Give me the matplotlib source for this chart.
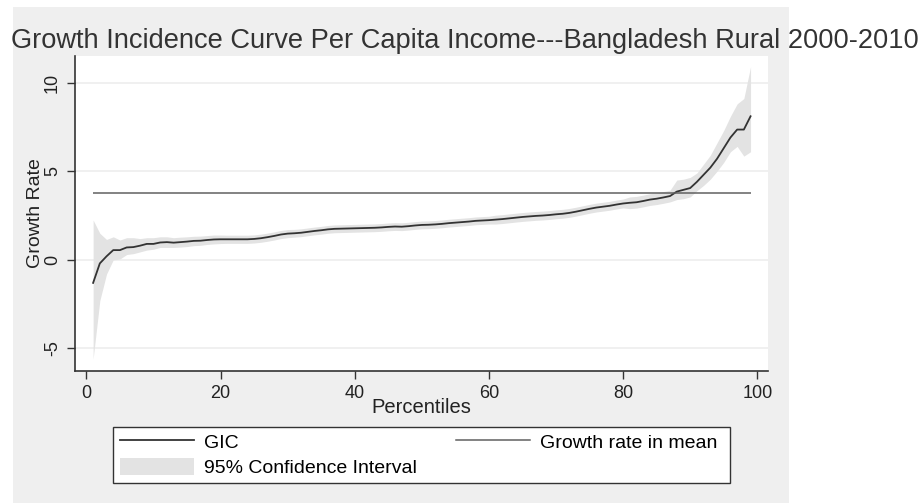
import matplotlib
matplotlib.use("Agg")
import matplotlib.pyplot as plt
from matplotlib.patches import Rectangle, Patch
from matplotlib.lines import Line2D

plt.rcParams['font.family'] = ['Liberation Sans', 'DejaVu Sans']

# percentiles 1..99
percentiles = list(range(1, 100))

gic = [-1.30, -0.20, 0.20, 0.55, 0.55, 0.70, 0.72, 0.80, 0.90, 0.90,
       0.98, 1.00, 0.97, 1.00, 1.03, 1.07, 1.08, 1.12, 1.15, 1.16,
       1.16, 1.16, 1.16, 1.16, 1.18, 1.22, 1.28, 1.35, 1.43, 1.48,
       1.50, 1.53, 1.58, 1.63, 1.67, 1.72, 1.75, 1.76, 1.77, 1.78,
       1.79, 1.80, 1.81, 1.83, 1.86, 1.88, 1.87, 1.90, 1.94, 1.97,
       1.98, 2.00, 2.03, 2.07, 2.10, 2.13, 2.16, 2.20, 2.22, 2.24,
       2.27, 2.30, 2.34, 2.38, 2.42, 2.45, 2.48, 2.50, 2.53, 2.57,
       2.60, 2.65, 2.72, 2.80, 2.88, 2.95, 3.00, 3.05, 3.12, 3.18,
       3.22, 3.25, 3.32, 3.40, 3.45, 3.52, 3.60, 3.85, 3.95, 4.05,
       4.40, 4.80, 5.20, 5.70, 6.30, 6.90, 7.35, 7.35, 8.10]

ci_low = [-5.60, -2.30, -0.80, 0.00, 0.05, 0.30, 0.35, 0.45, 0.55, 0.60,
          0.70, 0.70, 0.70, 0.72, 0.75, 0.80, 0.82, 0.87, 0.90, 0.92,
          0.93, 0.93, 0.93, 0.93, 0.95, 0.99, 1.05, 1.12, 1.20, 1.25,
          1.28, 1.31, 1.36, 1.41, 1.45, 1.50, 1.53, 1.54, 1.55, 1.56,
          1.57, 1.58, 1.59, 1.61, 1.64, 1.66, 1.65, 1.68, 1.72, 1.75,
          1.76, 1.78, 1.81, 1.85, 1.88, 1.91, 1.94, 1.98, 2.00, 2.02,
          2.02, 2.05, 2.09, 2.13, 2.17, 2.20, 2.23, 2.25, 2.28, 2.32,
          2.35, 2.40, 2.47, 2.55, 2.63, 2.70, 2.75, 2.80, 2.87, 2.93,
          2.89, 2.92, 2.99, 3.07, 3.12, 3.19, 3.27, 3.40, 3.45, 3.55,
          3.90, 4.20, 4.55, 5.00, 5.50, 6.10, 6.40, 5.85, 6.10]

ci_high = [2.25, 1.50, 1.15, 1.30, 1.12, 1.25, 1.25, 1.20, 1.25, 1.25,
           1.30, 1.30, 1.25, 1.28, 1.30, 1.33, 1.34, 1.37, 1.40, 1.40,
           1.39, 1.39, 1.39, 1.39, 1.41, 1.45, 1.51, 1.58, 1.66, 1.71,
           1.72, 1.75, 1.80, 1.85, 1.89, 1.94, 1.97, 1.98, 1.99, 2.00,
           2.01, 2.02, 2.03, 2.05, 2.08, 2.10, 2.09, 2.12, 2.16, 2.19,
           2.20, 2.22, 2.25, 2.29, 2.32, 2.35, 2.38, 2.42, 2.44, 2.46,
           2.52, 2.55, 2.59, 2.63, 2.67, 2.70, 2.73, 2.75, 2.78, 2.82,
           2.85, 2.90, 2.97, 3.05, 3.13, 3.20, 3.25, 3.30, 3.37, 3.43,
           3.55, 3.58, 3.65, 3.73, 3.78, 3.85, 3.93, 4.50, 4.55, 4.65,
           4.90, 5.40, 5.90, 6.60, 7.30, 8.10, 8.80, 9.10, 10.90]

mean_growth = 3.75

x_ticks = [0, 20, 40, 60, 80, 100]
y_ticks = [-5, 0, 5, 10]

fig = plt.figure(figsize=(9.22, 5.03), dpi=100)
fig.patch.set_facecolor('white')

# grey background panel like stata graph region
bg = Rectangle((13 / 922, 0), (789 - 13) / 922, 1 - 7 / 503,
               transform=fig.transFigure, facecolor='#efefef', edgecolor='none', zorder=-10)
fig.patches.append(bg)

ax = fig.add_axes([75 / 922, 1 - 371 / 503, (768 - 75) / 922, (371 - 56) / 503])
ax.set_facecolor('white')

ax.fill_between(percentiles, ci_low, ci_high, color='#e3e3e3', linewidth=0, zorder=2)
ax.plot(percentiles, gic, color='#333333', linewidth=1.3, zorder=3)
ax.hlines(mean_growth, percentiles[0], percentiles[-1], color='#606060', linewidth=1.1, zorder=3)

ax.set_xlim(-1.7, 101.6)
ax.set_ylim(-6.27, 11.5)
ax.set_xticks(x_ticks)
ax.set_yticks(y_ticks)
ax.set_yticklabels([str(v) for v in y_ticks], rotation=90, va='center')
ax.tick_params(axis='both', direction='out', length=6, width=1, color='#333333',
               labelsize=13, labelcolor='#222222', pad=4)
ax.grid(axis='y', color='#eeeeee', linewidth=1.2, zorder=0)
ax.set_axisbelow(True)

for s in ['top', 'right']:
    ax.spines[s].set_visible(False)
for s in ['left', 'bottom']:
    ax.spines[s].set_color('#333333')
    ax.spines[s].set_linewidth(1.2)

ax.set_xlabel('Percentiles', fontsize=14.5, color='#222222', labelpad=-3)
ax.set_ylabel('Growth Rate', fontsize=14, color='#222222', labelpad=0)

fig.text(11 / 922, 1 - 47.7 / 503, 'Growth Incidence Curve Per Capita Income---Bangladesh Rural 2000-2010',
         fontsize=19.6, color='#333333', ha='left', va='baseline')

# legend box drawn by hand so the padding matches
box = Rectangle((112.5 / 922, 1 - 483 / 503), (730 - 112.5) / 922, (483 - 427) / 503,
                transform=fig.transFigure, facecolor='white', edgecolor='#333333',
                linewidth=1.0, zorder=1)
fig.patches.append(box)

handles = [Line2D([], [], color='#333333', linewidth=1.3),
           Patch(facecolor='#e3e3e3', edgecolor='none'),
           Line2D([], [], color='#606060', linewidth=1.1)]
labels = ['GIC', '95% Confidence Interval', 'Growth rate in mean']
leg = fig.legend(handles, labels, ncol=2, loc='upper left',
                 bbox_to_anchor=(116 / 922, 1 - 429 / 503),
                 fontsize=14, frameon=False,
                 handlelength=3.8, handleheight=0.95, handletextpad=0.5,
                 columnspacing=2.05, labelspacing=0.3, borderpad=0.2, borderaxespad=0)

fig.savefig('out.png', dpi=100, facecolor=fig.get_facecolor())
